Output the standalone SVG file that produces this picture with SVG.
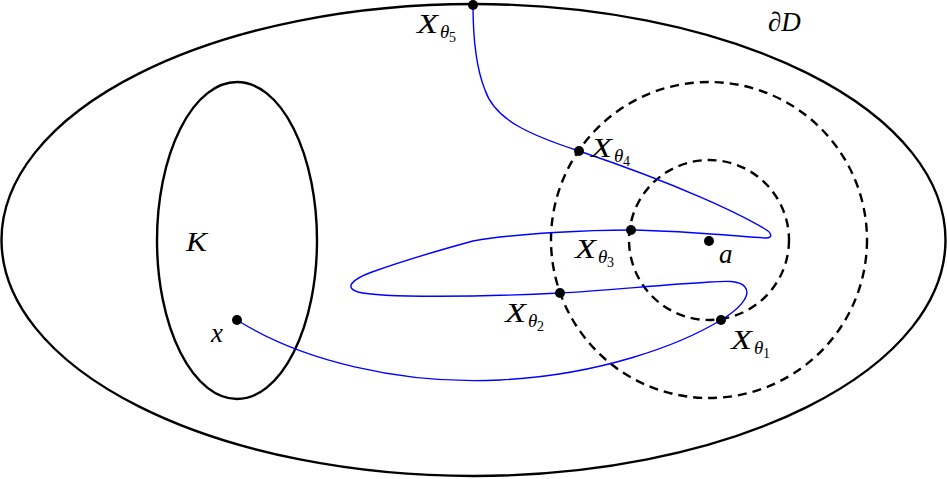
<svg xmlns="http://www.w3.org/2000/svg" width="947" height="479" viewBox="0 0 947 479">
<style>
.solid{fill:none;stroke:#000;stroke-width:2.4}
.dash{fill:none;stroke:#000;stroke-width:2.4;stroke-dasharray:9 6}
.path{fill:none;stroke:#0000ff;stroke-width:1.4}
.dot{fill:#000}
text{font-family:"Liberation Serif","DejaVu Serif",serif;font-style:italic;fill:#000}
.big{font-size:27px}
.sub{font-size:19px}
.num{font-size:14px;font-style:normal}
</style>
<rect width="947" height="479" fill="#fff"/>
<g id="domain"><ellipse class="solid" cx="473.5" cy="240" rx="472" ry="236"/><text class="big" x="768" y="31">∂D</text></g>
<g id="K"><ellipse class="solid" cx="237" cy="240.5" rx="80" ry="158.5"/><text class="big" x="186" y="251" textLength="21" lengthAdjust="spacingAndGlyphs">K</text></g>
<g id="circles"><circle class="dash" cx="709" cy="240" r="158"/><circle class="dash" cx="709" cy="240" r="80"/></g>
<g id="connectors">
<path class="path" d="M237,320 C300,360 400,385 500,380 C600,375 680,345 721,320 C738,310 752,296 745,287 C740,280 725,281 710,282 C660,285 600,291 560,293 C480,297 380,298 358,292 C345,288 350,280 372,272 C400,262 440,250 473,241 C520,233 590,230 631,230 C690,231 745,237 766,238 C773,238 772,233 765,229 C740,214 680,185 579,151 C530,135 495,120 485,90 C475,65 473,30 473,5"/>
</g>
<g id="x"><circle class="dot" cx="237" cy="320" r="5"/><text class="big" x="211" y="342">x</text></g>
<g id="a"><circle class="dot" cx="709" cy="241" r="5"/><text class="big" x="719" y="263">a</text></g>
<g id="X1"><circle class="dot" cx="721" cy="320" r="5"/><text class="big" x="731" y="349" textLength="21" lengthAdjust="spacingAndGlyphs">X</text><text class="sub" x="754" y="354">θ</text><text class="num" x="763" y="358">1</text></g>
<g id="X2"><circle class="dot" cx="560" cy="293" r="5"/><text class="big" x="505" y="322" textLength="21" lengthAdjust="spacingAndGlyphs">X</text><text class="sub" x="528" y="327">θ</text><text class="num" x="537" y="331">2</text></g>
<g id="X3"><circle class="dot" cx="631" cy="230" r="5"/><text class="big" x="575" y="258" textLength="21" lengthAdjust="spacingAndGlyphs">X</text><text class="sub" x="598" y="263">θ</text><text class="num" x="607" y="267">3</text></g>
<g id="X4"><circle class="dot" cx="579" cy="151" r="5"/><text class="big" x="591" y="157" textLength="21" lengthAdjust="spacingAndGlyphs">X</text><text class="sub" x="614" y="162">θ</text><text class="num" x="623" y="166">4</text></g>
<g id="X5"><circle class="dot" cx="473" cy="5" r="5"/><text class="big" x="417" y="33" textLength="21" lengthAdjust="spacingAndGlyphs">X</text><text class="sub" x="440" y="38">θ</text><text class="num" x="449" y="42">5</text></g>
</svg>
